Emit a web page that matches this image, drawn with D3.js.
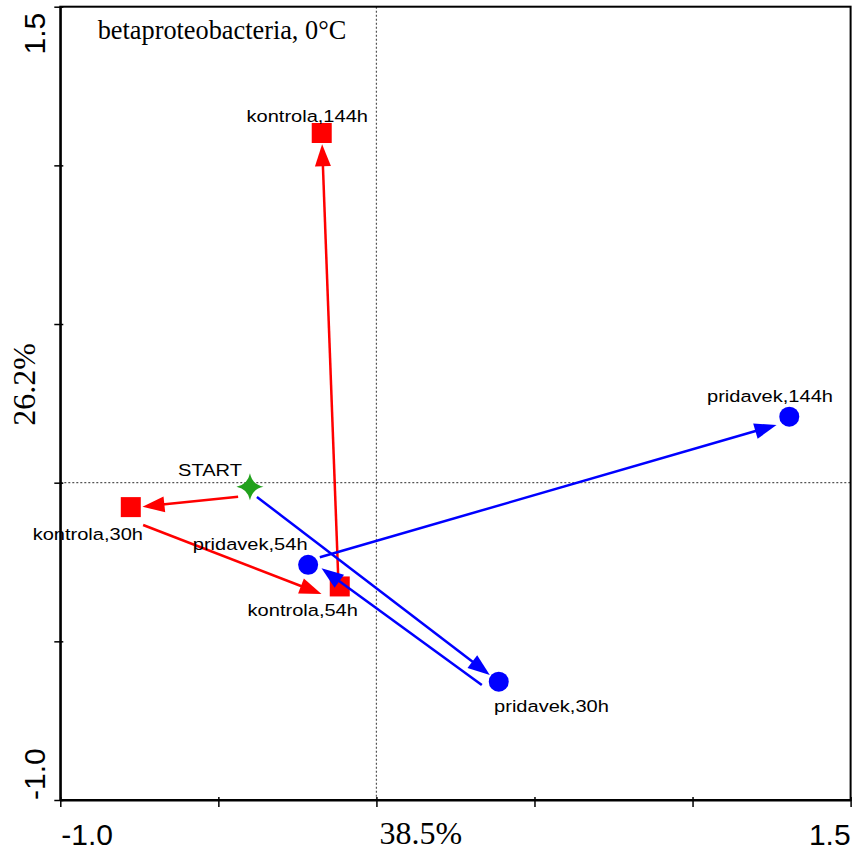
<!DOCTYPE html>
<html>
<head>
<meta charset="utf-8">
<script src="https://cdn.jsdelivr.net/npm/d3@7"></script>
<style>
  html, body { margin: 0; padding: 0; background: #fff; }
  svg { display: block; }
</style>
</head>
<body>
<svg id="chart" width="855" height="850"></svg>
<script>
// ---------------- DATA ----------------
const title = "betaproteobacteria, 0°C";
const xAxisTitle = "38.5%";
const yAxisTitle = "26.2%";
const axisDomain = [-1.0, 1.5];
const tickValues = [-1.0, -0.5, 0.0, 0.5, 1.0, 1.5];
const endTickLabels = ["-1.0", "1.5"];

const pointNames = ["START", "kontrola,30h", "kontrola,54h", "kontrola,144h", "pridavek,30h", "pridavek,54h", "pridavek,144h"];
const pointGroup = ["start", "kontrola", "kontrola", "kontrola", "pridavek", "pridavek", "pridavek"];
const pointX = [-0.400, -0.777, -0.116, -0.173, 0.387, -0.216, 1.306];
const pointY = [-0.013, -0.077, -0.327, 1.102, -0.627, -0.259, 0.208];

// trajectory arrows (tail -> head), in axis units
const arrowGroup = ["kontrola", "kontrola", "kontrola", "pridavek", "pridavek", "pridavek"];
const arrowTailX = [-0.4375, -0.738, -0.1205, -0.378, 0.3334, -0.179];
const arrowTailY = [-0.0441, -0.1333, -0.3066, -0.045, -0.6376, -0.2351];
const arrowHeadX = [-0.740, -0.1737, -0.1718, 0.3587, -0.1737, 1.2657];
const arrowHeadY = [-0.0756, -0.3508, 1.0665, -0.606, -0.2698, 0.1818];

// ---------------- LAYOUT / STYLE ----------------
const plot = { left: 60.3, right: 850.6, top: 6.7, bottom: 800 };
const colors = { kontrola: "#ff0000", pridavek: "#0000ff", start: "#22a11d" };
const labelOffsets = {
  "START": [-40, -11],
  "kontrola,30h": [-43, 33],
  "kontrola,54h": [-37, 30],
  "kontrola,144h": [-14.5, -11.3],
  "pridavek,30h": [52.7, 30],
  "pridavek,54h": [-58, -15],
  "pridavek,144h": [-19.3, -15]
};

const svg = d3.select("#chart");
const x = d3.scaleLinear().domain(axisDomain).range([plot.left, plot.right]);
const y = d3.scaleLinear().domain(axisDomain).range([plot.bottom, plot.top]);

// zero reference lines (dotted)
svg.append("line")
  .attr("x1", x(0)).attr("x2", x(0)).attr("y1", y(axisDomain[1])).attr("y2", y(axisDomain[0]))
  .attr("stroke", "#555").attr("stroke-width", 1.2).attr("stroke-dasharray", "2,2");
svg.append("line")
  .attr("x1", x(axisDomain[0])).attr("x2", x(axisDomain[1])).attr("y1", y(0)).attr("y2", y(0))
  .attr("stroke", "#555").attr("stroke-width", 1.2).attr("stroke-dasharray", "2,2");

// frame
svg.append("rect")
  .attr("x", plot.left).attr("y", plot.top)
  .attr("width", plot.right - plot.left).attr("height", plot.bottom - plot.top)
  .attr("fill", "none").attr("stroke", "#000").attr("stroke-width", 2);

// axes (ticks only)
const xAxis = d3.axisBottom(x).tickValues(tickValues).tickFormat("").tickSizeInner(7).tickSizeOuter(0);
const gx = svg.append("g").attr("transform", `translate(0,${plot.bottom})`).call(xAxis);
gx.select(".domain").attr("stroke", "#000").attr("stroke-width", 2);
gx.selectAll(".tick line").attr("stroke", "#000").attr("stroke-width", 1.5).attr("y1", -3);

const yAxis = d3.axisLeft(y).tickValues(tickValues).tickFormat("").tickSizeInner(6).tickSizeOuter(0);
const gy = svg.append("g").attr("transform", `translate(${plot.left},0)`).call(yAxis);
gy.select(".domain").attr("stroke", "#000").attr("stroke-width", 2);
gy.selectAll(".tick line").attr("stroke", "#000").attr("stroke-width", 1.5).attr("x1", 3);

// tick end labels
const tickFont = "'Liberation Sans', Arial, sans-serif";
svg.append("text").text(endTickLabels[0])
  .attr("x", x(axisDomain[0]) + 1).attr("y", 845)
  .attr("font-family", tickFont).attr("font-size", 30).attr("text-anchor", "start");
svg.append("text").text(endTickLabels[1])
  .attr("x", x(axisDomain[1])).attr("y", 845)
  .attr("font-family", tickFont).attr("font-size", 30).attr("text-anchor", "end");
svg.append("text").text(endTickLabels[1])
  .attr("transform", `translate(45,${y(axisDomain[1]) + 6}) rotate(-90)`)
  .attr("font-family", tickFont).attr("font-size", 30).attr("text-anchor", "end");
svg.append("text").text(endTickLabels[0])
  .attr("transform", `translate(45,${y(axisDomain[0])}) rotate(-90)`)
  .attr("font-family", tickFont).attr("font-size", 30).attr("text-anchor", "start");

// axis titles
const serif = "'Liberation Serif', 'Times New Roman', serif";
svg.append("text").text(xAxisTitle)
  .attr("x", x(0) + 3).attr("y", 844)
  .attr("font-family", serif).attr("font-size", 32).attr("text-anchor", "start");
svg.append("text").text(yAxisTitle)
  .attr("transform", `translate(35,${y(0) - 57}) rotate(-90)`)
  .attr("font-family", serif).attr("font-size", 32).attr("text-anchor", "start");

// title
svg.append("text").text(title)
  .attr("x", 97.7).attr("y", 39.3)
  .attr("font-family", serif).attr("font-size", 26.3);

// ---------------- ARROWS + MARKERS ----------------
const headLen = 22, headHalf = 8;
function drawArrows(group) {
  const g = svg.append("g");
  arrowGroup.forEach((grp, i) => {
    if (grp !== group) return;
    const x1 = x(arrowTailX[i]), y1 = y(arrowTailY[i]);
    const x2 = x(arrowHeadX[i]), y2 = y(arrowHeadY[i]);
    const dx = x2 - x1, dy = y2 - y1, L = Math.hypot(dx, dy);
    const ux = dx / L, uy = dy / L;
    const bx = x2 - ux * headLen, by = y2 - uy * headLen;
    g.append("line")
      .attr("x1", x1).attr("y1", y1).attr("x2", bx + ux * 2).attr("y2", by + uy * 2)
      .attr("stroke", colors[grp]).attr("stroke-width", 2.5);
    g.append("polygon")
      .attr("points", [[x2, y2], [bx - uy * headHalf, by + ux * headHalf], [bx + uy * headHalf, by - ux * headHalf]].map(p => p.join(",")).join(" "))
      .attr("fill", colors[grp]);
  });
}

function drawMarkers(group) {
  const g = svg.append("g");
  pointNames.forEach((name, i) => {
    if (pointGroup[i] !== group) return;
    const cx = x(pointX[i]), cy = y(pointY[i]);
    if (group === "kontrola") {
      g.append("rect").attr("x", cx - 10).attr("y", cy - 10).attr("width", 20).attr("height", 20)
        .attr("fill", colors[group]);
    } else if (group === "pridavek") {
      g.append("circle").attr("cx", cx).attr("cy", cy).attr("r", 10).attr("fill", colors[group]);
    } else {
      // four-pointed star with concave sides
      const R = 13.5, c = 2.2;
      const p = d3.path();
      p.moveTo(cx, cy - R);
      p.quadraticCurveTo(cx + c, cy - c, cx + R, cy);
      p.quadraticCurveTo(cx + c, cy + c, cx, cy + R);
      p.quadraticCurveTo(cx - c, cy + c, cx - R, cy);
      p.quadraticCurveTo(cx - c, cy - c, cx, cy - R);
      p.closePath();
      g.append("path").attr("d", p.toString()).attr("fill", colors[group]);
    }
  });
}

drawArrows("kontrola");
drawMarkers("kontrola");
drawArrows("pridavek");
drawMarkers("pridavek");
drawMarkers("start");

// point labels
const lbl = svg.append("g");
pointNames.forEach((name, i) => {
  const off = labelOffsets[name];
  const px = x(pointX[i]) + off[0], py = y(pointY[i]) + off[1];
  lbl.append("text").text(name)
    .attr("transform", `translate(${px},${py}) scale(1.18,1)`)
    .attr("text-anchor", "middle")
    .attr("font-family", tickFont).attr("font-size", 17).attr("fill", "#000");
});
</script>
</body>
</html>
